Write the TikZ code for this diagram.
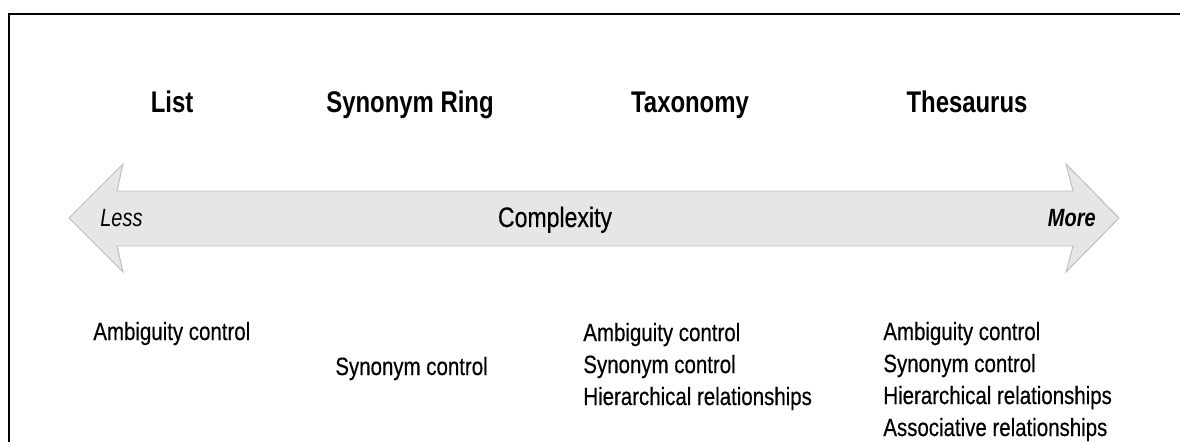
\documentclass[tikz,border=0pt]{standalone}
\usepackage{fontspec}
\setmainfont{Liberation Sans}[FakeStretch=0.80]
\newfontfamily\featfont{Liberation Sans}[FakeStretch=0.82,FakeBold=0.4]
\usepackage{xcolor}
\usepackage{tikz}
\usetikzlibrary{positioning}
\definecolor{ScaleFill}{HTML}{E6E6E6}
\definecolor{ScaleEdge}{HTML}{BDBDBD}
\tikzset{
  every node/.style = {text=black, inner sep=0pt},
  level title/.style = {font=\fontsize{17}{20}\selectfont\bfseries, anchor=base},
  feature list/.style = {font=\featfont\fontsize{14.2}{18.2}\selectfont, align=left, anchor=base west},
  scale end/.style = {font=\fontsize{14.2}{17}\selectfont\itshape},
  scale mid/.style = {font=\featfont\fontsize{16}{18}\selectfont, anchor=base},
  scale arrow/.style = {draw=ScaleEdge, fill=ScaleFill, line width=0.55pt, line join=miter},
  frame line/.style = {draw=black, line width=1.15pt},
}

\begin{document}
\begin{tikzpicture}[x=0.02cm,y=-0.02cm]
  \useasboundingbox (0,0) rectangle (1180,442);
  \draw[frame line] (9,442) -- (9,14) -- (1180,14);

  % levels of vocabulary control
  \node[level title] (list) at (172,113) {List};
  \node[level title] (synring) at (410,113) {Synonym Ring};
  \node[level title] (taxonomy) at (690,113) {Taxonomy};
  \node[level title] (thesaurus) at (967,113) {Thesaurus};

  % complexity scale
  \draw[scale arrow] (69,218) -- (123,164) -- (117,191) -- (1073,191) -- (1066,164)
    -- (1119,218) -- (1066,272) -- (1073,246) -- (117,246) -- (123,272) -- cycle;
  \node[scale end, anchor=base west] (less) at (100,227) {Less};
  \node[scale mid] (complexity) at (555,227) {Complexity};
  \node[scale end, anchor=base east, font=\fontsize{14.2}{17}\selectfont\bfseries\itshape] (more) at (1096,227) {More};

  % features of each level (anchored on the last line)
  \node[feature list] (listfeat) at (93,340) {Ambiguity control};
  \node[feature list] (synfeat) at (335,375) {Synonym control};
  \node[feature list] (taxfeat) at (583,405)
    {Ambiguity control\\Synonym control\\Hierarchical relationships};
  \node[feature list] (thesfeat) at (883,436)
    {Ambiguity control\\Synonym control\\Hierarchical relationships\\Associative relationships};
\end{tikzpicture}
\end{document}
